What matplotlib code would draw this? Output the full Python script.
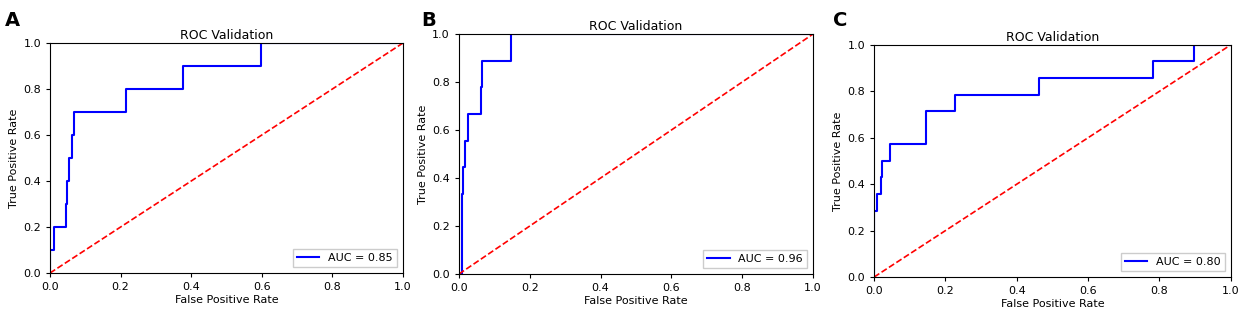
import matplotlib
matplotlib.use("Agg")
import matplotlib.pyplot as plt

# Panel A ROC
fpr_a = [0.0, 0.0, 0.01, 0.01, 0.045, 0.045, 0.048, 0.048, 0.055, 0.055, 0.063, 0.063, 0.067, 0.067,
         0.215, 0.215, 0.377, 0.377, 0.597, 0.597, 1.0]
tpr_a = [0.0, 0.1, 0.1, 0.2, 0.2, 0.3, 0.3, 0.4, 0.4, 0.5, 0.5, 0.6, 0.6, 0.7,
         0.7, 0.8, 0.8, 0.9, 0.9, 1.0, 1.0]
auc_a = 0.85

# Panel B ROC
fpr_b = [0.0, 0.01, 0.01, 0.013, 0.013, 0.018, 0.018, 0.027, 0.027, 0.062, 0.062, 0.065, 0.065,
         0.148, 0.148, 1.0]
tpr_b = [0.0, 0.0, 0.333, 0.333, 0.444, 0.444, 0.556, 0.556, 0.667, 0.667, 0.778, 0.778, 0.889,
         0.889, 1.0, 1.0]
auc_b = 0.96

# Panel C ROC
fpr_c = [0.0, 0.0, 0.009, 0.009, 0.019, 0.019, 0.022, 0.022, 0.045, 0.045, 0.146, 0.146, 0.227, 0.227,
         0.463, 0.463, 0.781, 0.781, 0.898, 0.898, 1.0]
tpr_c = [0.0, 0.286, 0.286, 0.357, 0.357, 0.429, 0.429, 0.5, 0.5, 0.571, 0.571, 0.714, 0.714, 0.786,
         0.786, 0.857, 0.857, 0.929, 0.929, 1.0, 1.0]
auc_c = 0.80

panels = [
    ("A", fpr_a, tpr_a, auc_a, [0.0401, 0.1333, 0.283, 0.730], (0.004, 0.965)),
    ("B", fpr_b, tpr_b, auc_b, [0.368, 0.130, 0.284, 0.762], (0.338, 0.965)),
    ("C", fpr_c, tpr_c, auc_c, [0.701, 0.1206, 0.286, 0.737], (0.668, 0.965)),
]

fig = plt.figure(figsize=(12.47, 3.15), dpi=100)
for letter, fpr, tpr, auc, pos, lpos in panels:
    ax = fig.add_axes(pos)
    ax.plot(fpr, tpr, color="b", lw=1.5, label=f"AUC = {auc:.2f}")
    ax.plot([0, 1], [0, 1], "r--", lw=1.2)
    ax.set_xlim(0, 1)
    ax.set_ylim(0, 1)
    ax.set_xticks([0, 0.2, 0.4, 0.6, 0.8, 1.0])
    ax.set_yticks([0, 0.2, 0.4, 0.6, 0.8, 1.0])
    ax.tick_params(labelsize=8, length=3)
    ax.set_title("ROC Validation", fontsize=9, pad=3)
    ax.set_xlabel("False Positive Rate", fontsize=8, labelpad=2)
    ax.set_ylabel("True Positive Rate", fontsize=8, labelpad=3)
    ax.legend(loc="lower right", fontsize=8, fancybox=False, framealpha=1, edgecolor="#cccccc")
    fig.text(lpos[0], lpos[1], letter, fontsize=14, fontweight="bold", va="top", ha="left")

fig.savefig("out.png", dpi=100)
